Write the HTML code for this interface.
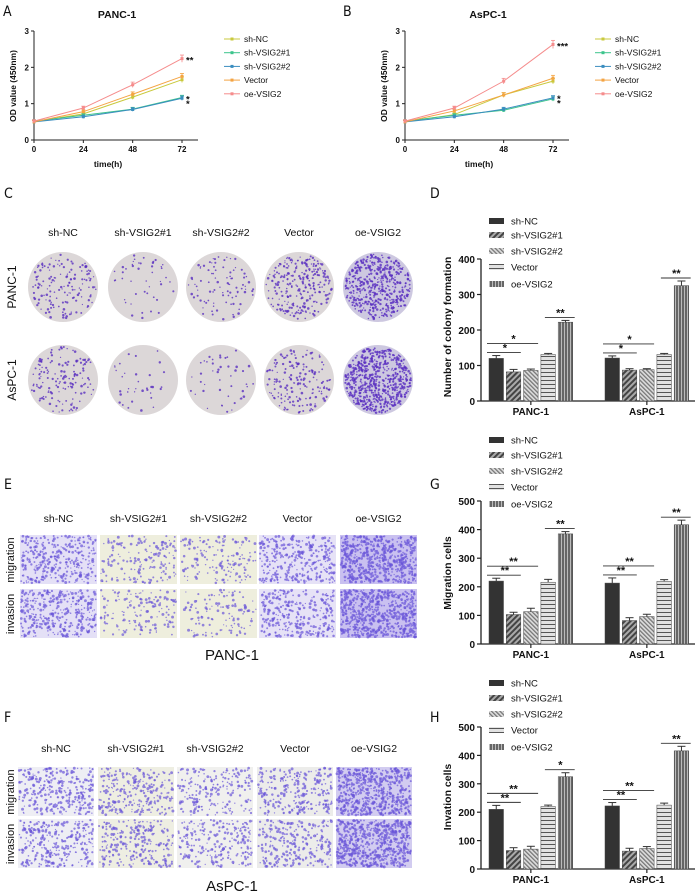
<!DOCTYPE html>
<html><head><meta charset="utf-8"><style>
html,body{margin:0;padding:0;background:#fff}
svg{display:block;font-family:"Liberation Sans",sans-serif}
</style></head><body>
<svg id="fig" width="698" height="892" viewBox="0 0 698 892" xmlns="http://www.w3.org/2000/svg">
<defs>
<pattern id="p1" width="4" height="4" patternUnits="userSpaceOnUse" patternTransform="rotate(45)"><rect width="4" height="4" fill="#aaa"/><rect width="2" height="4" fill="#444"/></pattern>
<pattern id="p2" width="3" height="3" patternUnits="userSpaceOnUse" patternTransform="rotate(-45)"><rect width="3" height="3" fill="#ddd"/><rect width="1.3" height="3" fill="#777"/></pattern>
<pattern id="p3" width="4" height="4" patternUnits="userSpaceOnUse"><rect width="4" height="4" fill="#e2e2e2"/><rect width="4" height="1" fill="#555"/></pattern>
<pattern id="p4" width="3" height="3" patternUnits="userSpaceOnUse"><rect width="3" height="3" fill="#666"/><rect width="1" height="3" fill="#bbb"/></pattern>
</defs>
<g id="root"></g>
</svg>
<script>
// ===== Line chart data (panels A, B) =====
const timePoints = [0, 24, 48, 72];
const lineSeries = ["sh-NC", "sh-VSIG2#1", "sh-VSIG2#2", "Vector", "oe-VSIG2"];
const lineColors = ["#c9c93c", "#3cc48c", "#3a8dbf", "#f4a443", "#f58c8c"];
const panc_shNC = [0.50, 0.72, 1.18, 1.66];
const panc_sh1 = [0.52, 0.68, 0.85, 1.17];
const panc_sh2 = [0.50, 0.64, 0.84, 1.15];
const panc_vec = [0.50, 0.78, 1.26, 1.75];
const panc_oe = [0.52, 0.88, 1.52, 2.24];
const aspc_shNC = [0.50, 0.70, 1.24, 1.62];
const aspc_sh1 = [0.52, 0.68, 0.82, 1.13];
const aspc_sh2 = [0.50, 0.64, 0.85, 1.16];
const aspc_vec = [0.50, 0.80, 1.24, 1.70];
const aspc_oe = [0.52, 0.88, 1.62, 2.63];
const lineYTicks = [0, 1, 2, 3];

// ===== Bar chart data (panels D, G, H) =====
const barGroups = ["PANC-1", "AsPC-1"];
const barSeries = ["sh-NC", "sh-VSIG2#1", "sh-VSIG2#2", "Vector", "oe-VSIG2"];
const colonyPANC = [120, 82, 86, 131, 222];
const colonyAsPC = [121, 87, 88, 131, 325];
const colonyErrP = [8, 7, 4, 3, 5];
const colonyErrA = [6, 4, 3, 3, 13];
const colonyTicks = [0, 100, 200, 300, 400];
const migPANC = [220, 103, 113, 216, 385];
const migAsPC = [213, 82, 96, 219, 417];
const migErrP = [10, 8, 12, 10, 8];
const migErrA = [18, 10, 8, 6, 16];
const migTicks = [0, 100, 200, 300, 400, 500];
const invPANC = [210, 65, 70, 220, 325];
const invAsPC = [222, 63, 72, 225, 416];
const invErrP = [14, 10, 10, 5, 14];
const invErrA = [12, 10, 7, 7, 16];
const invTicks = [0, 100, 200, 300, 400, 500];

const NS = "http://www.w3.org/2000/svg";
const root = document.getElementById("root");
function mk(tag, attrs, parent, text) {
  const e = document.createElementNS(NS, tag);
  for (const k in attrs) e.setAttribute(k, attrs[k]);
  if (text !== undefined) e.textContent = text;
  (parent || root).appendChild(e);
  return e;
}
function txt(x, y, s, size, opts, parent) {
  const a = Object.assign({x: x, y: y, "font-size": size, fill: "#111"}, opts || {});
  return mk("text", a, parent, s);
}

// ===== Panel letters =====
const letters = [["A", 3, 16], ["B", 343, 16], ["C", 4, 198], ["D", 430, 198], ["E", 4, 489], ["G", 430, 489], ["F", 4, 722], ["H", 430, 722]];
letters.forEach(l => {
  const t = txt(l[1], l[2], l[0], 14, {"font-family": "DejaVu Sans Condensed, Liberation Sans, sans-serif"});
  
  
});

// ===== Line charts =====
function lineChart(ox, title, data, stars, key) {
  const g = mk("g", {});
  
  
  const x0 = 34 + ox, y0 = 140, pxX = (182 - 34) / 72, pxY = (140 - 31) / 3;
  const X = v => x0 + v * pxX, Y = v => y0 - v * pxY;
  const t = txt(x0 + 83, 18, title, 10.5, {"font-weight": "bold", "text-anchor": "middle"}, g);
   
  mk("line", {x1: x0, y1: Y(3), x2: x0, y2: y0, stroke: "#222", "stroke-width": 1}, g);
  mk("line", {x1: x0, y1: y0, x2: x0 + 164, y2: y0, stroke: "#222", "stroke-width": 1}, g);
  lineYTicks.forEach(v => {
    mk("line", {x1: x0 - 3, y1: Y(v), x2: x0, y2: Y(v), stroke: "#222"}, g);
    const tl = txt(x0 - 5, Y(v) + 3, String(v), 8, {"text-anchor": "end", "font-weight": "bold"}, g);
     
  });
  timePoints.forEach(v => {
    mk("line", {x1: X(v), y1: y0, x2: X(v), y2: y0 + 3, stroke: "#222"}, g);
    const tl = txt(X(v), y0 + 12, String(v), 8, {"text-anchor": "middle", "font-weight": "bold"}, g);
     
  });
  const xt = txt(x0 + 74, 167, "time(h)", 8.5, {"text-anchor": "middle", "font-weight": "bold"}, g);
   
  const yt = txt(0, 0, "OD value (450nm)", 8.5, {"text-anchor": "middle", "font-weight": "bold", transform: "translate(" + (x0 - 18) + ",86) rotate(-90)"}, g);
   
  data.forEach((vals, si) => {
    const pts = vals.map((v, i) => X(timePoints[i]) + "," + Y(v)).join(" ");
    const pl = mk("polyline", {points: pts, fill: "none", stroke: lineColors[si], "stroke-width": 1}, g);
    
    
    vals.forEach((v, i) => {
      const e = 0.02 + v * 0.035;
      mk("line", {x1: X(timePoints[i]), y1: Y(v + e), x2: X(timePoints[i]), y2: Y(v - e), stroke: lineColors[si], "stroke-width": 0.8}, g);
      mk("line", {x1: X(timePoints[i]) - 2, y1: Y(v + e), x2: X(timePoints[i]) + 2, y2: Y(v + e), stroke: lineColors[si], "stroke-width": 0.8}, g);
      const m = mk("rect", {x: X(timePoints[i]) - 1.5, y: Y(v) - 1.5, width: 3, height: 3, fill: lineColors[si]}, g);
       
    });
  });
  stars.forEach(s => { txt(X(72) + 4, Y(s[0]) + 5, s[1], 9.5, {"font-weight": "bold"}, g); });
  const lx = 224 + ox;
  lineSeries.forEach((n, i) => {
    const ly = 39 + i * 13.7;
    const le = mk("g", {}, g);
    
    
    mk("line", {x1: lx, y1: ly, x2: lx + 16, y2: ly, stroke: lineColors[i], "stroke-width": 1}, le);
    mk("rect", {x: lx + 6.5, y: ly - 1.5, width: 3, height: 3, fill: lineColors[i]}, le);
    txt(lx + 20, ly + 3, n, 8.5, {}, le);
  });
}
lineChart(0, "PANC-1", [panc_shNC, panc_sh1, panc_sh2, panc_vec, panc_oe], [[2.24, "**"], [1.17, "*"], [1.05, "*"]], "a");
lineChart(371, "AsPC-1", [aspc_shNC, aspc_sh1, aspc_sh2, aspc_vec, aspc_oe], [[2.63, "***"], [1.18, "*"], [1.06, "*"]], "b");

// ===== Photo placeholders (decorative, seeded) =====
let seed = 7;
function rnd() { seed = (seed * 16807) % 2147483647; return (seed - 1) / 2147483646; }
const colHeads = ["sh-NC", "sh-VSIG2#1", "sh-VSIG2#2", "Vector", "oe-VSIG2"];
const plateCX = [63, 143, 221, 299, 378], plateCY = [287, 380];
const plateDens = [[150, 45, 90, 260, 480], [150, 35, 45, 170, 650]];
colHeads.forEach((h, i) => {
  const t = txt(plateCX[i], 236, h, 10.5, {"text-anchor": "middle"});
   
});
["PANC-1", "AsPC-1"].forEach((r, j) => {
  const t = txt(0, 0, r, 12, {"text-anchor": "middle", transform: "translate(16," + plateCY[j] + ") rotate(-90)"});
   
});
plateCY.forEach((cy, j) => plateCX.forEach((cx, i) => {
  const g = mk("g", {});
  
  
  mk("circle", {cx: cx, cy: cy, r: 35, fill: i === 4 ? "#cdc8e0" : "#dcd7d8"}, g);
  for (let k = 0; k < plateDens[j][i]; k++) {
    const a = rnd() * 6.283, rr = 33 * Math.sqrt(rnd());
    mk("circle", {cx: cx + rr * Math.cos(a), cy: cy + rr * Math.sin(a), r: 0.6 + rnd() * 0.7, fill: "#5a2fc0", opacity: 0.8}, g);
  }
}));

function micro(xs, w, headY, rows, dens, bgs, bottomLbl, bottomY, key) {
  colHeads.forEach((h, i) => {
    const t = txt(xs[i] + w / 2, headY, h, 10.5, {"text-anchor": "middle"});
     
  });
  ["migration", "invasion"].forEach((r, j) => {
    const t = txt(0, 0, r, 11, {"text-anchor": "middle", transform: "translate(14," + (rows[j] + 25) + ") rotate(-90)"});
     
  });
  rows.forEach((ry, j) => xs.forEach((x, i) => {
    const g = mk("g", {});
    
    
    mk("rect", {x: x, y: ry, width: w, height: 49, fill: bgs[i]}, g);
    const n = dens[j][i];
    for (let k = 0; k < n; k++) {
      mk("circle", {cx: x + 1 + rnd() * (w - 2), cy: ry + 1 + rnd() * 47, r: 0.6 + rnd() * 0.9, fill: "#6a55d8", opacity: 0.7}, g);
    }
  }));
  const t = txt(232, bottomY, bottomLbl, 15, {"text-anchor": "middle"});
   
}
micro([20, 100, 180, 259, 340], 77, 522, [535, 589], [[330, 160, 150, 320, 600], [350, 150, 120, 300, 620]],
  ["#e4e0f6", "#eeeedd", "#eeeedd", "#e6e2f6", "#c9c0f0"], "PANC-1", 660, "e");
micro([18, 98, 177, 257, 336], 76, 752, [767, 819], [[300, 260, 200, 260, 600], [280, 250, 230, 250, 650]],
  ["#eeeef4", "#eeeee2", "#f0f0ee", "#ececea", "#d2ccf0"], "AsPC-1", 891, "f");

// ===== Bar charts =====
const barFills = ["#333", "url(#p1)", "url(#p2)", "url(#p3)", "url(#p4)"];
function barChart(cfg) {
  const g = mk("g", {});
  
  
  const ax = 481, Y = v => cfg.zero - v * cfg.px;
  const top = Y(cfg.ticks[cfg.ticks.length - 1]);
  mk("line", {x1: ax, y1: top, x2: ax, y2: cfg.zero, stroke: "#222", "stroke-width": 1.3}, g);
  mk("line", {x1: ax, y1: cfg.zero, x2: 695, y2: cfg.zero, stroke: "#222", "stroke-width": 1.3}, g);
  cfg.ticks.forEach(v => {
    mk("line", {x1: ax - 4, y1: Y(v), x2: ax, y2: Y(v), stroke: "#222", "stroke-width": 1.2}, g);
    const t = txt(ax - 6, Y(v) + 4, String(v), 10, {"text-anchor": "end", "font-weight": "bold"}, g);
     
  });
  const yt = txt(0, 0, cfg.title, 10.5, {"text-anchor": "middle", "font-weight": "bold", transform: "translate(451," + cfg.titleY + ") rotate(-90)"}, g);
   
  const starts = [489, 605], step = 17.3, bw = 14.5;
  [cfg.p, cfg.a].forEach((vals, gi) => {
    const errs = gi === 0 ? cfg.ep : cfg.ea;
    const cx = starts[gi] + 2 * step + bw / 2;
    mk("line", {x1: cx, y1: cfg.zero, x2: cx, y2: cfg.zero + 4, stroke: "#222", "stroke-width": 1.2}, g);
    const gl = txt(cx, cfg.zero + 14, barGroups[gi], 10, {"text-anchor": "middle", "font-weight": "bold"}, g);
     
    const bx = i => starts[gi] + i * step;
    vals.forEach((v, i) => {
      const r = mk("rect", {x: bx(i), y: Y(v), width: bw, height: v * cfg.px, fill: barFills[i], stroke: "#444", "stroke-width": 0.5}, g);
      
      
      const xc = bx(i) + bw / 2, ye = Y(v + errs[i]);
      mk("line", {x1: xc, y1: Y(v), x2: xc, y2: ye, stroke: "#333", "stroke-width": 1}, g);
      mk("line", {x1: xc - 4, y1: ye, x2: xc + 4, y2: ye, stroke: "#333", "stroke-width": 1}, g);
    });
    const s = cfg.sig[gi];
    const y1 = Y(vals[0] + errs[0]) - 3, y2 = y1 - 9;
    mk("line", {x1: bx(0) - 2, y1: y1, x2: bx(1) + bw, y2: y1, stroke: "#333", "stroke-width": 0.9}, g);
    txt((bx(0) + bx(1) + bw) / 2, y1 - 1, s[0], 11, {"text-anchor": "middle", "font-weight": "bold"}, g);
    mk("line", {x1: bx(0) - 2, y1: y2, x2: bx(2) + bw, y2: y2, stroke: "#333", "stroke-width": 0.9}, g);
    txt((bx(0) + bx(2) + bw) / 2, y2 - 1, s[1], 11, {"text-anchor": "middle", "font-weight": "bold"}, g);
    const y3 = Y(vals[4] + errs[4]) - 3;
    mk("line", {x1: bx(3) + 4, y1: y3, x2: bx(4) + bw + 2, y2: y3, stroke: "#333", "stroke-width": 0.9}, g);
    txt(bx(4) + bw / 2 - 5, y3 - 1, s[2], 11, {"text-anchor": "middle", "font-weight": "bold"}, g);
  });
  barSeries.forEach((n, i) => {
    const ly = cfg.legY[i];
    const le = mk("g", {}, g);
    
    
    mk("rect", {x: 489, y: ly - 3, width: 15, height: 6, fill: barFills[i]}, le);
    txt(511, ly + 3.5, n, 9.5, {}, le);
  });
}
barChart({key: "colony-chart", zero: 401, px: 0.355, ticks: colonyTicks, p: colonyPANC, a: colonyAsPC, ep: colonyErrP, ea: colonyErrA,
  title: "Number of colony formation", titleY: 327, legY: [221, 235, 251, 267, 284], sig: [["*", "*", "**"], ["*", "*", "**"]]});
barChart({key: "migration-chart", zero: 644, px: 0.286, ticks: migTicks, p: migPANC, a: migAsPC, ep: migErrP, ea: migErrA,
  title: "Migration cells", titleY: 573, legY: [440, 455, 471, 487, 504], sig: [["**", "**", "**"], ["**", "**", "**"]]});
barChart({key: "invasion-chart", zero: 869, px: 0.284, ticks: invTicks, p: invPANC, a: invAsPC, ep: invErrP, ea: invErrA,
  title: "Invation cells", titleY: 797, legY: [683, 698, 714, 730, 747], sig: [["**", "**", "*"], ["**", "**", "**"]]});
</script>
</body></html>
